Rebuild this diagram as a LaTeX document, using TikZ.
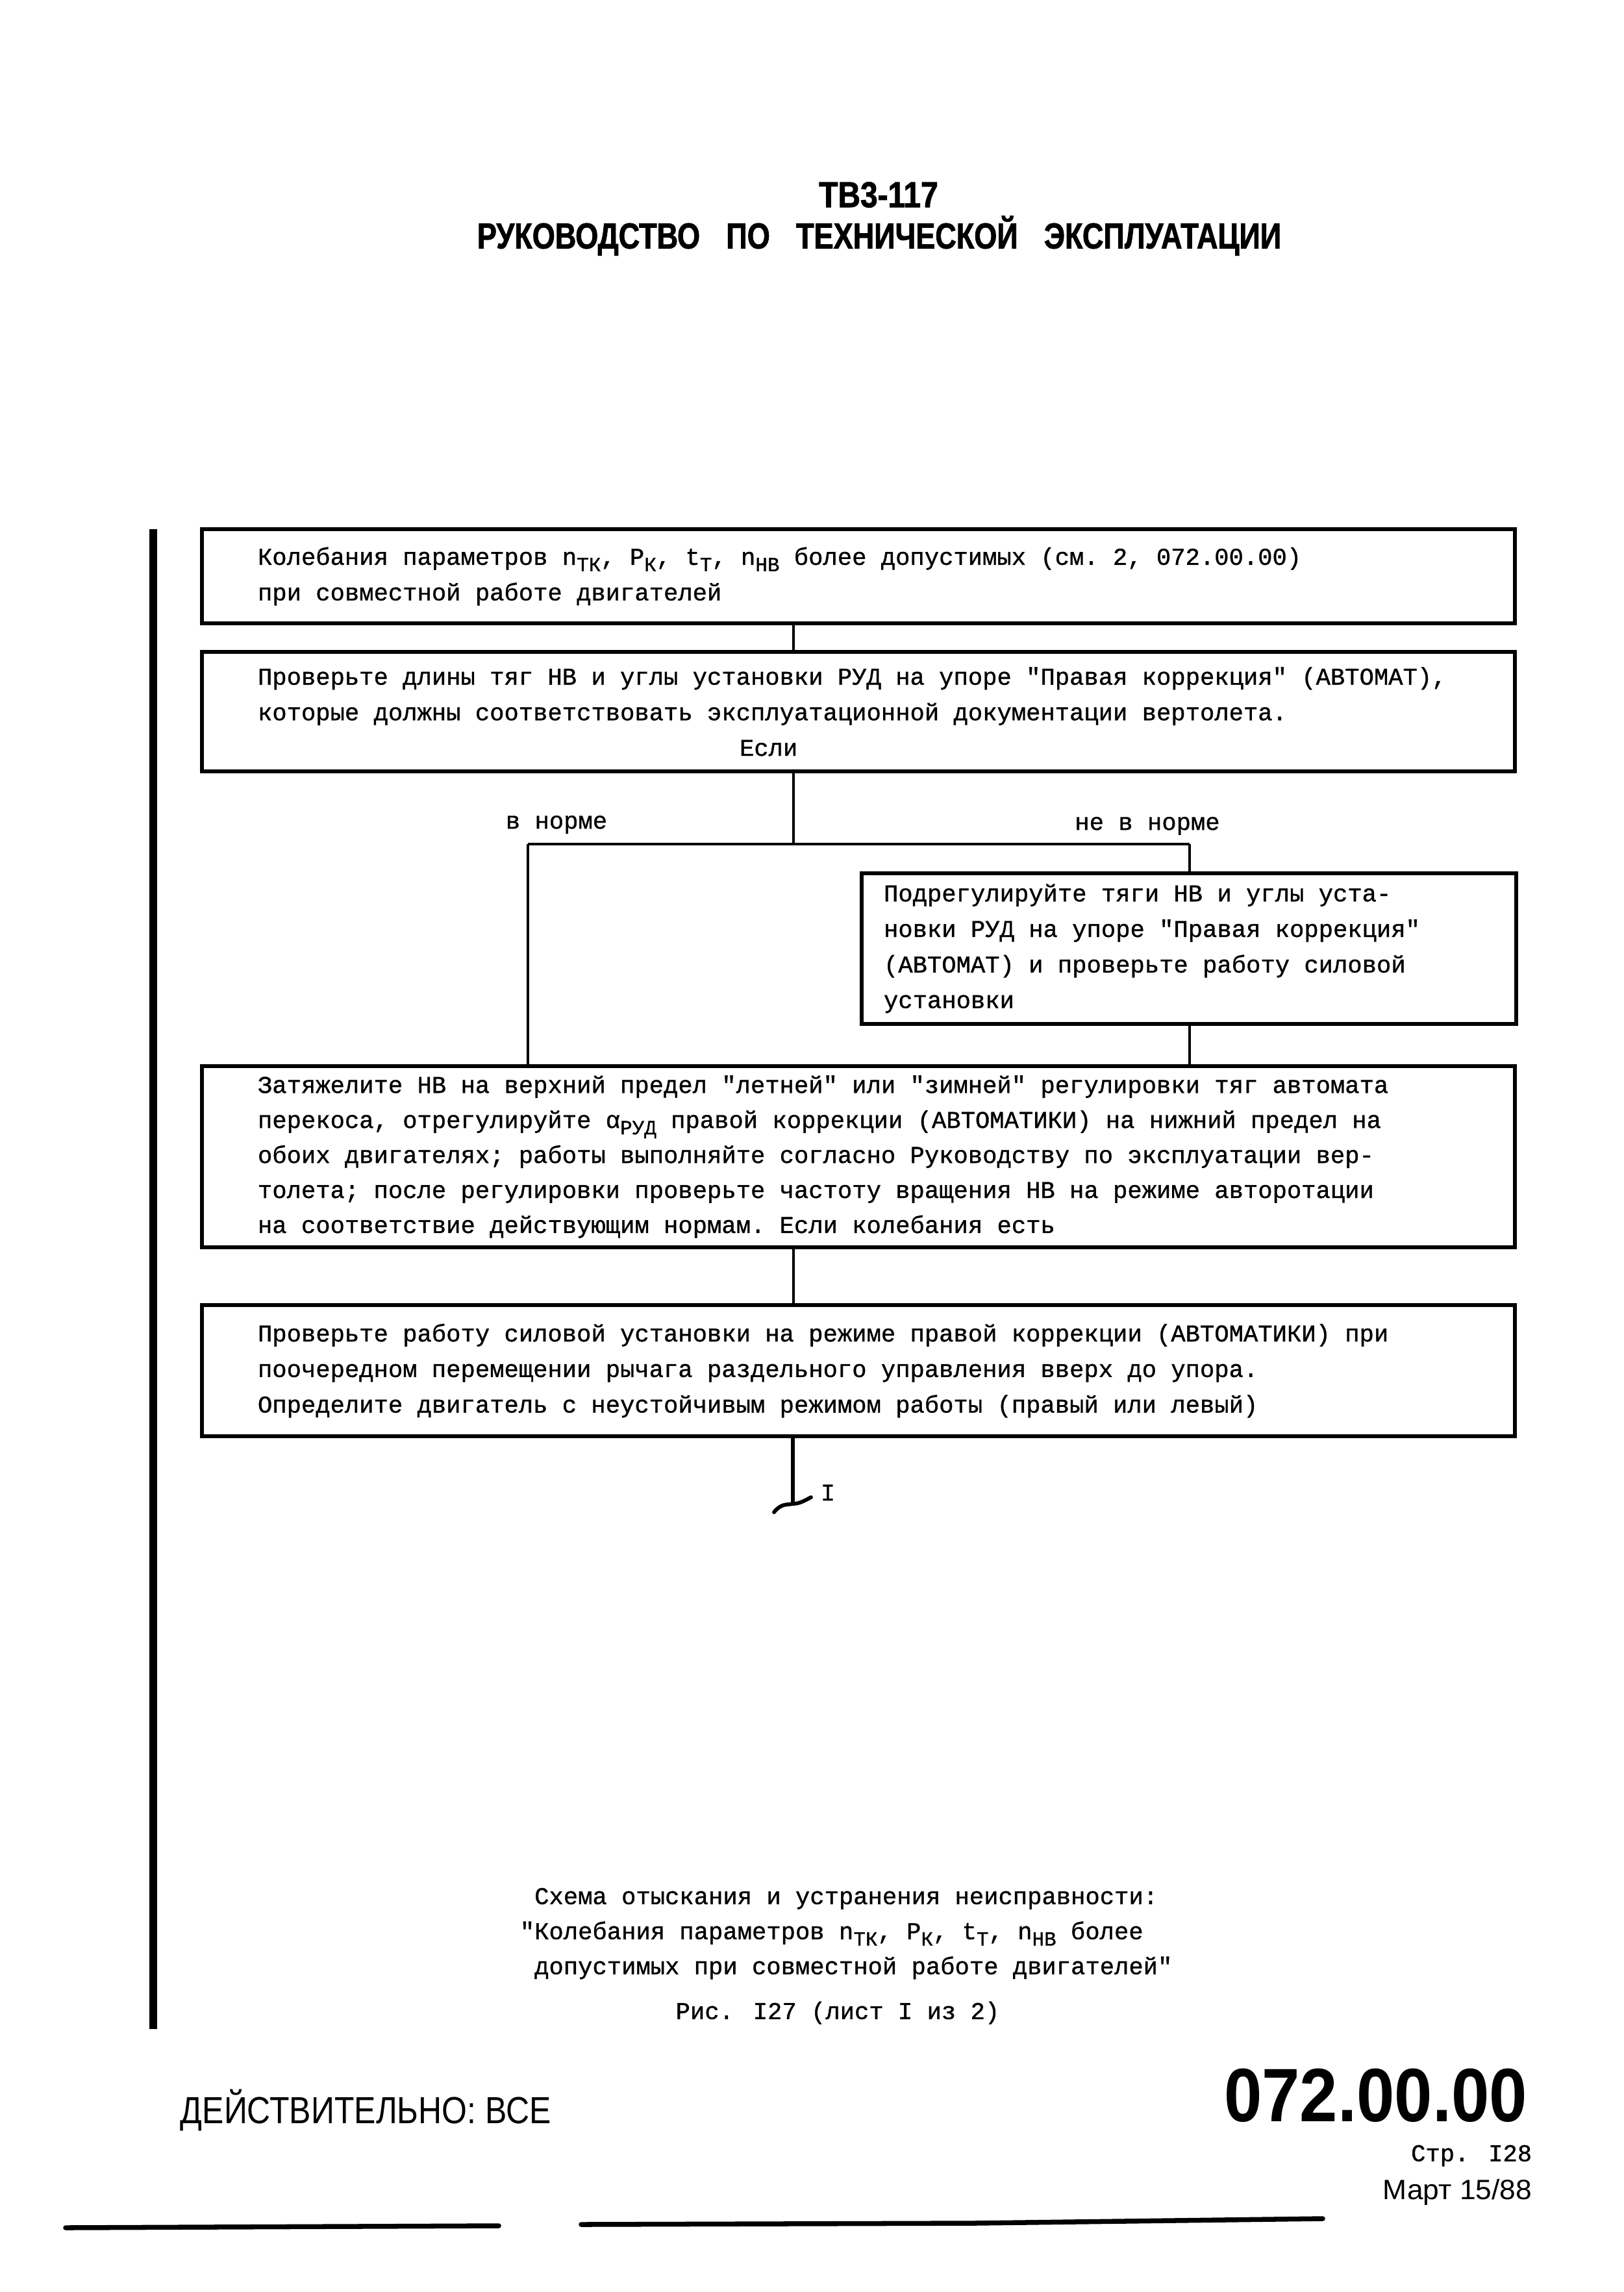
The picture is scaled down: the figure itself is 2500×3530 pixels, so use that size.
\documentclass[tikz,border=0pt]{standalone}
\usepackage{fontspec}
\setmainfont{Liberation Serif}
\newfontfamily\typefont[FakeBold=1]{Liberation Mono}
\newfontfamily\headfont[FakeStretch=0.81,FakeBold=1.5]{Liberation Sans}
\newfontfamily\numfont[FakeStretch=0.86,FakeBold=1.5]{Liberation Sans}
\newfontfamily\footfont[FakeStretch=0.86]{Liberation Sans}
\newfontfamily\datefont[FakeStretch=1.03]{Liberation Sans}
\newfontfamily\codefont[FakeStretch=0.9]{Liberation Sans}
\usetikzlibrary{positioning}
\newlength\unitpx
\setlength\unitpx{0.0084cm}
\newcommand\lowidx[1]{\raisebox{-0.5ex}{\fontsize{7.4}{8}\selectfont #1}}
\newcommand\monosp{\spaceskip=\fontdimen2\font\xspaceskip=\fontdimen2\font\relax}

\begin{document}
\begin{tikzpicture}[x=0.0084cm,y=-0.0084cm,
  stepbox/.style={draw,line width=1.3pt,align=left,inner xsep=86\unitpx,inner ysep=0pt,
    text width=1850\unitpx,minimum height=#1\unitpx,font=\typefont\fontsize{8.9}{13.1}\selectfont},
  conn/.style={line width=1pt},
  lbl/.style={inner sep=0pt,font=\typefont\fontsize{8.9}{13.1}\selectfont}]
\useasboundingbox (0,0) rectangle (2500,3530);
\node[font=\numfont\bfseries\fontsize{13.3}{16}\selectfont] (ttl1) at (1353,300) {ТВ3-117};
\node[font=\headfont\bfseries\fontsize{13.3}{16}\selectfont] (ttl2) at (1354,363) {РУКОВОДСТВО\hspace{0.5em} ПО\hspace{0.5em} ТЕХНИЧЕСКОЙ\hspace{0.5em} ЭКСПЛУАТАЦИИ};
\draw[line width=2.9pt] (236,815) -- (236,3125);
\node[stepbox=145] (b1) at (1322,887.5) {\monosp Колебания параметров n\lowidx{ТК}, P\lowidx{К}, t\lowidx{Т}, n\lowidx{НВ} более допустимых (см. 2, 072.00.00)\\при совместной работе двигателей};
\node[stepbox=184] (b2) at (1322,1096) {\monosp Проверьте длины тяг НВ и углы установки РУД на упоре "Правая коррекция" (АВТОМАТ),\\которые должны соответствовать эксплуатационной документации вертолета.\\\hspace*{742\unitpx}Если};
\node[stepbox=232,text width=940\unitpx,inner xsep=34\unitpx] (b4) at (1831,1461) {\monosp Подрегулируйте тяги НВ и углы уста-\\новки РУД на упоре "Правая коррекция"\\(АВТОМАТ) и проверьте работу силовой\\установки};
\node[stepbox=279,font=\typefont\fontsize{8.9}{12.9}\selectfont] (b3) at (1322,1781.5) {\monosp Затяжелите НВ на верхний предел "летней" или "зимней" регулировки тяг автомата\\перекоса, отрегулируйте α\lowidx{РУД} правой коррекции (АВТОМАТИКИ) на нижний предел на\\обоих двигателях; работы выполняйте согласно Руководству по эксплуатации вер-\\толета; после регулировки проверьте частоту вращения НВ на режиме авторотации\\на соответствие действующим нормам. Если колебания есть};
\node[stepbox=202] (b5) at (1322,2111) {\monosp Проверьте работу силовой установки на режиме правой коррекции (АВТОМАТИКИ) при\\поочередном перемещении рычага раздельного управления вверх до упора.\\Определите двигатель с неустойчивым режимом работы (правый или левый)};
\coordinate (spine) at (1222,0);
\coordinate (lbr) at (813,1300);
\coordinate (rbr) at (1832,1300);
\coordinate (brk) at (1221,2316);
\draw[conn] (b1.south -| spine) -- (b2.north -| spine);
\draw[conn] (b2.south -| spine) -- (lbr -| spine);
\draw[conn] (lbr) -- (rbr);
\draw[conn] (lbr) -- (lbr |- b3.north);
\draw[conn] (rbr) -- (rbr |- b4.north);
\draw[conn] (b4.south -| rbr) -- (b3.north -| rbr);
\draw[conn] (b3.south -| spine) -- (b5.north -| spine);
\draw[conn,line width=1.3pt] (b5.south -| brk) -- (brk);
\draw[line width=1.4pt,line cap=round] (1192,2329) .. controls (1203,2315) and (1212,2318) .. (brk) .. controls (1232,2316) and (1241,2310) .. (1249,2306);
\node[lbl] (vnorm) at (857,1270) {в норме};
\node[lbl] (nenorm) at (1767,1272) {не в норме};
\node[lbl,anchor=base west] (mark) at (1263,2311) {I};
\node[lbl,anchor=west,align=left,font=\typefont\fontsize{8.9}{12.9}\selectfont] (capt) at (800,2978) {\monosp\hspace*{0.6em}Схема отыскания и устранения неисправности:\\"Колебания параметров n\lowidx{ТК}, P\lowidx{К}, t\lowidx{Т}, n\lowidx{НВ} более\\\hspace*{0.6em}допустимых при совместной работе двигателей"};
\node[lbl] (fig) at (1290,3100) {Рис. I27 (лист I из 2)};
\node[inner sep=0pt,anchor=west,font=\footfont\fontsize{13.9}{16}\selectfont] (valid) at (277,3250) {ДЕЙСТВИТЕЛЬНО: ВСЕ};
\node[inner sep=0pt,anchor=east,font=\codefont\bfseries\fontsize{27.9}{30}\selectfont] (code) at (2353,3227) {072.00.00};
\node[lbl,anchor=east] (page) at (2360,3320) {Стр. I28};
\node[inner sep=0pt,anchor=east,font=\datefont\fontsize{10.3}{12}\selectfont] (date) at (2360,3376) {Март 15/88};
\draw[line width=1.8pt,line cap=round] (101,3431) -- (768,3428);
\draw[line width=1.8pt,line cap=round] (895,3426) -- (1500,3424) -- (2037,3417);
\end{tikzpicture}
\end{document}
